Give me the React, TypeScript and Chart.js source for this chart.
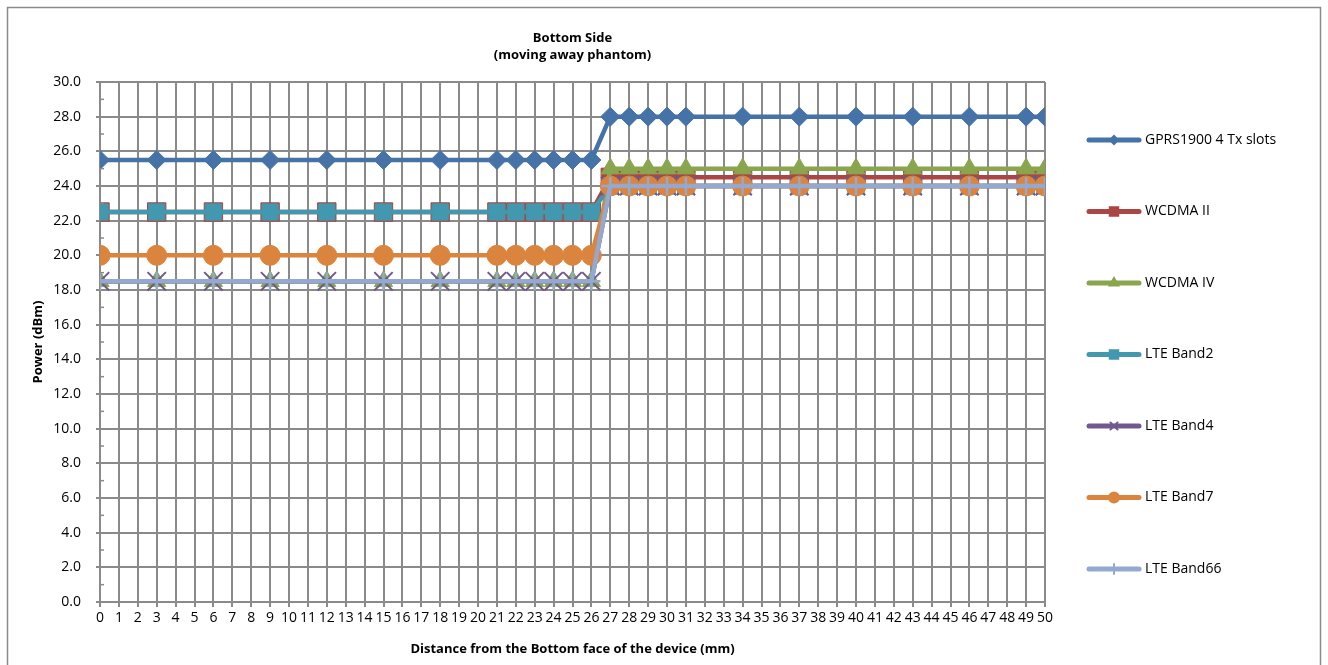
import React, { useEffect, useRef } from "react";
import { Chart, registerables } from "chart.js";
import { drawPoint } from "chart.js/helpers";

Chart.register(...registerables);

// ---- data ----
const distances = [0, 3, 6, 9, 12, 15, 18, 21, 22, 23, 24, 25, 26, 27, 28, 29, 30, 31, 34, 37, 40, 43, 46, 49, 50];
const seriesNames = ["GPRS1900 4 Tx slots", "WCDMA II", "WCDMA IV", "LTE Band2", "LTE Band4", "LTE Band7", "LTE Band66"];
const gprs1900 = [25.5, 25.5, 25.5, 25.5, 25.5, 25.5, 25.5, 25.5, 25.5, 25.5, 25.5, 25.5, 25.5, 28.0, 28.0, 28.0, 28.0, 28.0, 28.0, 28.0, 28.0, 28.0, 28.0, 28.0, 28.0];
const wcdmaII = [22.5, 22.5, 22.5, 22.5, 22.5, 22.5, 22.5, 22.5, 22.5, 22.5, 22.5, 22.5, 22.5, 24.5, 24.5, 24.5, 24.5, 24.5, 24.5, 24.5, 24.5, 24.5, 24.5, 24.5, 24.5];
const wcdmaIV = [18.5, 18.5, 18.5, 18.5, 18.5, 18.5, 18.5, 18.5, 18.5, 18.5, 18.5, 18.5, 18.5, 25.0, 25.0, 25.0, 25.0, 25.0, 25.0, 25.0, 25.0, 25.0, 25.0, 25.0, 25.0];
const lteBand2 = [22.5, 22.5, 22.5, 22.5, 22.5, 22.5, 22.5, 22.5, 22.5, 22.5, 22.5, 22.5, 22.5, 24.0, 24.0, 24.0, 24.0, 24.0, 24.0, 24.0, 24.0, 24.0, 24.0, 24.0, 24.0];
const lteBand4 = [18.5, 18.5, 18.5, 18.5, 18.5, 18.5, 18.5, 18.5, 18.5, 18.5, 18.5, 18.5, 18.5, 24.0, 24.0, 24.0, 24.0, 24.0, 24.0, 24.0, 24.0, 24.0, 24.0, 24.0, 24.0];
const lteBand7 = [20.0, 20.0, 20.0, 20.0, 20.0, 20.0, 20.0, 20.0, 20.0, 20.0, 20.0, 20.0, 20.0, 24.0, 24.0, 24.0, 24.0, 24.0, 24.0, 24.0, 24.0, 24.0, 24.0, 24.0, 24.0];
const lteBand66 = [18.5, 18.5, 18.5, 18.5, 18.5, 18.5, 18.5, 18.5, 18.5, 18.5, 18.5, 18.5, 18.5, 24.0, 24.0, 24.0, 24.0, 24.0, 24.0, 24.0, 24.0, 24.0, 24.0, 24.0, 24.0];
const seriesValues = [gprs1900, wcdmaII, wcdmaIV, lteBand2, lteBand4, lteBand7, lteBand66];

const titleLines = ["Bottom Side", "(moving away phantom)"];
const xAxisTitle = "Distance from the Bottom face of the device (mm)";
const yAxisTitle = "Power (dBm)";

// ---- styles ----
const colors = ["#4572A7", "#AA4643", "#89A54E", "#4198AF", "#71588F", "#DB843D", "#93A9CF"];
const pointStyles = ["rectRot", "rect", "triangle", "rect", "crossRot", "circle", "cross"];
const pointRadii = [9.5, 13, 10.5, 11.5, 13, 10, 9];
const pointBorderWidths = [1, 1, 1, 1, 2, 1, 2.5];
const legendRadii = [4, 6, 5, 6, 5, 5, 5];
const FONT = "'Open Sans', sans-serif";
const GRID = "#8a8a8a";

const decorPlugin = {
  id: "decor",
  afterDraw(chart: any) {
    const ctx = chart.ctx;
    const area = chart.chartArea;
    const yScale = chart.scales.y;
    ctx.save();
    // minor ticks on y axis
    ctx.strokeStyle = GRID;
    ctx.lineWidth = 1.5;
    for (let v = 1; v < 30; v += 2) {
      const py = yScale.getPixelForValue(v);
      ctx.beginPath();
      ctx.moveTo(area.left, py);
      ctx.lineTo(area.left + 4, py);
      ctx.stroke();
    }
    // title
    ctx.fillStyle = "#000";
    ctx.font = `bold 13px ${FONT}`;
    ctx.textAlign = "center";
    ctx.textBaseline = "middle";
    const cx = (area.left + area.right) / 2;
    ctx.fillText(titleLines[0], cx, 38);
    ctx.fillText(titleLines[1], cx, 55);
    // legend
    chart.data.datasets.forEach((ds: any, i: number) => {
      const ly = 140 + i * 71.5;
      ctx.strokeStyle = colors[i];
      ctx.lineWidth = 5;
      ctx.lineCap = "round";
      ctx.beginPath();
      ctx.moveTo(1089, ly);
      ctx.lineTo(1139, ly);
      ctx.stroke();
      ctx.fillStyle = colors[i];
      ctx.strokeStyle = colors[i];
      ctx.lineWidth = 2;
      drawPoint(ctx, { pointStyle: pointStyles[i], radius: legendRadii[i], rotation: 0, borderWidth: 2 } as any, 1114, ly);
      ctx.fillStyle = "#000";
      ctx.font = `14px ${FONT}`;
      ctx.textAlign = "left";
      ctx.fillText(ds.label, 1145, ly);
    });
    // outer border
    ctx.strokeStyle = GRID;
    ctx.lineWidth = 1.5;
    ctx.strokeRect(7.5, 7.5, 1313, 680);
    ctx.restore();
  },
};

export default function App() {
  const ref = useRef<HTMLCanvasElement | null>(null);
  useEffect(() => {
    if (!ref.current) return;
    const datasets = seriesNames.map((name, i) => ({
      label: name,
      data: distances.map((d, j) => ({ x: d, y: seriesValues[i][j] })),
      borderColor: colors[i],
      backgroundColor: colors[i],
      pointBackgroundColor: colors[i],
      pointBorderColor: colors[i],
      pointStyle: pointStyles[i],
      pointRadius: pointRadii[i],
      pointBorderWidth: pointBorderWidths[i],
      borderWidth: 4.5,
      tension: 0,
      order: seriesNames.length - 1 - i,
    }));
    const chart = new Chart(ref.current, {
      type: "line",
      data: { datasets },
      options: {
        responsive: false,
        animation: false,
        devicePixelRatio: 1,
        layout: { padding: { left: 26, top: 82, right: 283, bottom: 0 } },
        plugins: { legend: { display: false }, title: { display: false }, tooltip: { enabled: false } },
        font: { family: FONT, size: 14 },
        scales: {
          x: {
            type: "linear",
            min: 0,
            max: 50,
            afterFit: (s: any) => { s.height = 63; },
            ticks: { stepSize: 1, autoSkip: false, maxRotation: 0, color: "#000", font: { family: FONT, size: 14 }, padding: 3 },
            grid: { color: GRID, lineWidth: 2, tickLength: 5 },
            border: { color: GRID, width: 2 },
            title: { display: true, text: xAxisTitle, color: "#000", font: { family: FONT, size: 13, weight: "bold" }, padding: { top: 4, bottom: 8 } },
          },
          y: {
            type: "linear",
            min: 0,
            max: 30,
            afterFit: (s: any) => { s.width = 74; },
            ticks: { stepSize: 2, color: "#000", font: { family: FONT, size: 14 }, padding: 15, callback: (v: any) => Number(v).toFixed(1) },
            grid: { color: GRID, lineWidth: 2, tickLength: 4 },
            border: { color: GRID, width: 2 },
            title: { display: true, text: yAxisTitle, color: "#000", font: { family: FONT, size: 13, weight: "bold" }, padding: { top: 4, bottom: 4 } },
          },
        },
      } as any,
      plugins: [decorPlugin],
    });
    return () => chart.destroy();
  }, []);
  return (
    <div style={{ position: "absolute", left: 0, top: 0, width: 1328, height: 665, background: "#fff" }}>
      <canvas ref={ref} width={1328} height={665} style={{ display: "block" }} />
    </div>
  );
}
